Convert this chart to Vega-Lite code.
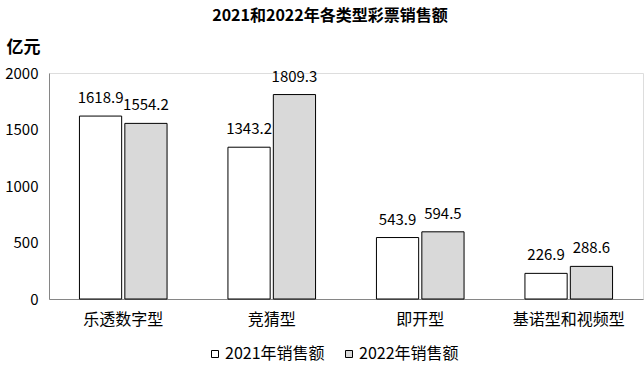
{
  "$schema": "https://vega.github.io/schema/vega-lite/v6.json",
  "width": 594,
  "height": 226,
  "autosize": "none",
  "padding": {"top": 73, "left": 49, "right": 1, "bottom": 72},
  "background": "white",
  "title": {
    "text": "2021和2022年各类型彩票销售额",
    "font": "Noto Sans CJK SC",
    "fontSize": 16,
    "fontWeight": "bold",
    "color": "black",
    "anchor": "middle",
    "offset": 14,
    "dx": -16
  },
  "data": {
    "values": [
      {"类型": "乐透数字型", "年份": "2021年销售额", "销售额": 1618.9},
      {"类型": "乐透数字型", "年份": "2022年销售额", "销售额": 1554.2},
      {"类型": "竞猜型", "年份": "2021年销售额", "销售额": 1343.2},
      {"类型": "竞猜型", "年份": "2022年销售额", "销售额": 1809.3},
      {"类型": "即开型", "年份": "2021年销售额", "销售额": 543.9},
      {"类型": "即开型", "年份": "2022年销售额", "销售额": 594.5},
      {"类型": "基诺型和视频型", "年份": "2021年销售额", "销售额": 226.9},
      {"类型": "基诺型和视频型", "年份": "2022年销售额", "销售额": 288.6}
    ]
  },
  "encoding": {
    "x": {
      "field": "类型",
      "type": "nominal",
      "sort": null,
      "scale": {"paddingInner": 0.41, "paddingOuter": 0.205},
      "axis": {
        "title": null,
        "labelAngle": 0,
        "labelFont": "Noto Sans CJK SC",
        "labelFontSize": 16,
        "labelColor": "black",
        "labelPadding": 12,
        "ticks": false,
        "domainColor": "#868686",
        "domainWidth": 1
      }
    },
    "xOffset": {
      "field": "年份",
      "type": "nominal",
      "scale": {"paddingInner": 0.07}
    },
    "y": {
      "field": "销售额",
      "type": "quantitative",
      "scale": {"domain": [0, 2000]},
      "axis": {
        "values": [0, 500, 1000, 1500, 2000],
        "format": "d",
        "grid": false,
        "ticks": false,
        "title": "亿元",
        "titleAngle": 0,
        "titleX": -43,
        "titleY": -26,
        "titleAlign": "left",
        "titleBaseline": "middle",
        "titleFont": "Noto Sans CJK SC",
        "titleFontSize": 17,
        "titleFontWeight": "bold",
        "titleColor": "black",
        "labelFont": "Noto Sans CJK SC",
        "labelFontSize": 15,
        "labelColor": "black",
        "labelPadding": 11,
        "domainColor": "#868686",
        "domainWidth": 1
      }
    }
  },
  "layer": [
    {
      "mark": {"type": "bar", "stroke": "black", "strokeWidth": 1},
      "encoding": {
        "color": {
          "field": "年份",
          "type": "nominal",
          "scale": {"range": ["#ffffff", "#d9d9d9"]},
          "legend": {
            "title": null,
            "orient": "none",
            "direction": "horizontal",
            "legendX": 158,
            "legendY": 273,
            "symbolType": "square",
            "symbolSize": 49,
            "symbolStrokeColor": "black",
            "symbolStrokeWidth": 1,
            "labelFont": "Noto Sans CJK SC",
            "labelFontSize": 16,
            "labelColor": "black",
            "labelOffset": 2,
            "columnPadding": 16
          }
        }
      }
    },
    {
      "mark": {
        "type": "text",
        "baseline": "bottom",
        "dy": -10,
        "font": "Noto Sans CJK SC",
        "fontSize": 15,
        "color": "black"
      },
      "encoding": {
        "text": {"field": "销售额", "type": "quantitative", "format": ".1f"}
      }
    }
  ]
}
